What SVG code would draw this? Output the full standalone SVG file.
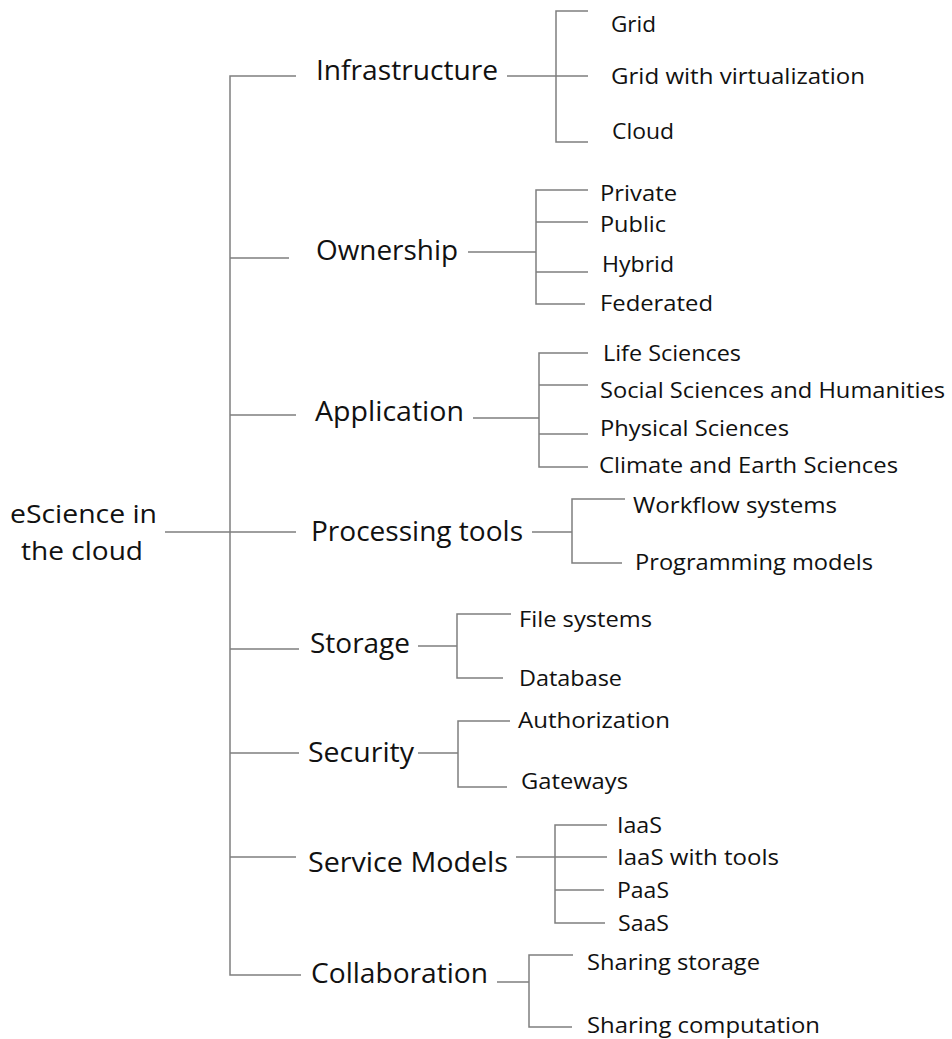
<svg xmlns="http://www.w3.org/2000/svg" width="952" height="1039" viewBox="0 0 952 1039">
<style>
text{font-family:"Open Sans","Noto Sans","Liberation Sans",sans-serif;fill:#111}
.root{font-size:25px}
.cat{font-size:28px}
.leaf{font-size:21.5px}
.c path{fill:none;stroke:#7f7f7f;stroke-width:1.5}
</style>
<rect width="952" height="1039" fill="#fff"/>
<g class="c" id="connectors">
<path d="M296 76H230V975H301M165 532H296M289 258H230M296 415H230M299 649H230M299 753H230M296 857H230"/>
<path d="M507 76H588M588 11H556V142H588"/>
<path d="M468 252H536M588 190H536V304H585M536 222H588M536 272H588"/>
<path d="M473 418H539M588 353H539V467H588M539 385H588M539 434H588"/>
<path d="M532 532H572M625 499H572V563H622"/>
<path d="M418 646H457M511 614H457V678H503"/>
<path d="M418 753H458M510 721H458V787H507"/>
<path d="M516 857H607M607 825H555V923H605M555 890H604"/>
<path d="M497 982H529M573 955H529V1027H572"/>
</g>
<g id="root"><text class="root" x="10" y="523" textLength="147" lengthAdjust="spacingAndGlyphs">eScience in</text><text class="root" x="21" y="560" textLength="122" lengthAdjust="spacingAndGlyphs">the cloud</text></g>
<g id="infrastructure"><text class="cat" x="316" y="80" textLength="182" lengthAdjust="spacingAndGlyphs">Infrastructure</text></g>
<g id="grid"><text class="leaf" x="611" y="32" textLength="45" lengthAdjust="spacingAndGlyphs">Grid</text></g>
<g id="grid-virt"><text class="leaf" x="611" y="84" textLength="254" lengthAdjust="spacingAndGlyphs">Grid with virtualization</text></g>
<g id="cloud"><text class="leaf" x="612" y="139" textLength="62" lengthAdjust="spacingAndGlyphs">Cloud</text></g>
<g id="ownership"><text class="cat" x="316" y="260" textLength="142" lengthAdjust="spacingAndGlyphs">Ownership</text></g>
<g id="private"><text class="leaf" x="600" y="201" textLength="77" lengthAdjust="spacingAndGlyphs">Private</text></g>
<g id="public"><text class="leaf" x="600" y="232" textLength="66" lengthAdjust="spacingAndGlyphs">Public</text></g>
<g id="hybrid"><text class="leaf" x="602" y="272" textLength="72" lengthAdjust="spacingAndGlyphs">Hybrid</text></g>
<g id="federated"><text class="leaf" x="600" y="311" textLength="113" lengthAdjust="spacingAndGlyphs">Federated</text></g>
<g id="application"><text class="cat" x="315" y="421" textLength="149" lengthAdjust="spacingAndGlyphs">Application</text></g>
<g id="life"><text class="leaf" x="603" y="361" textLength="138" lengthAdjust="spacingAndGlyphs">Life Sciences</text></g>
<g id="social"><text class="leaf" x="600" y="398" textLength="345" lengthAdjust="spacingAndGlyphs">Social Sciences and Humanities</text></g>
<g id="physical"><text class="leaf" x="600" y="436" textLength="189" lengthAdjust="spacingAndGlyphs">Physical Sciences</text></g>
<g id="climate"><text class="leaf" x="599" y="473" textLength="299" lengthAdjust="spacingAndGlyphs">Climate and Earth Sciences</text></g>
<g id="processing"><text class="cat" x="311" y="541" textLength="212" lengthAdjust="spacingAndGlyphs">Processing tools</text></g>
<g id="workflow"><text class="leaf" x="633" y="513" textLength="204" lengthAdjust="spacingAndGlyphs">Workflow systems</text></g>
<g id="programming"><text class="leaf" x="635" y="570" textLength="238" lengthAdjust="spacingAndGlyphs">Programming models</text></g>
<g id="storage"><text class="cat" x="310" y="653" textLength="100" lengthAdjust="spacingAndGlyphs">Storage</text></g>
<g id="filesystems"><text class="leaf" x="519" y="627" textLength="133" lengthAdjust="spacingAndGlyphs">File systems</text></g>
<g id="database"><text class="leaf" x="519" y="686" textLength="103" lengthAdjust="spacingAndGlyphs">Database</text></g>
<g id="security"><text class="cat" x="308" y="762" textLength="106" lengthAdjust="spacingAndGlyphs">Security</text></g>
<g id="authorization"><text class="leaf" x="518" y="728" textLength="152" lengthAdjust="spacingAndGlyphs">Authorization</text></g>
<g id="gateways"><text class="leaf" x="521" y="789" textLength="107" lengthAdjust="spacingAndGlyphs">Gateways</text></g>
<g id="service"><text class="cat" x="308" y="872" textLength="200" lengthAdjust="spacingAndGlyphs">Service Models</text></g>
<g id="iaas"><text class="leaf" x="617" y="833" textLength="45" lengthAdjust="spacingAndGlyphs">IaaS</text></g>
<g id="iaas-tools"><text class="leaf" x="617" y="865" textLength="162" lengthAdjust="spacingAndGlyphs">IaaS with tools</text></g>
<g id="paas"><text class="leaf" x="617" y="898" textLength="52" lengthAdjust="spacingAndGlyphs">PaaS</text></g>
<g id="saas"><text class="leaf" x="618" y="931" textLength="51" lengthAdjust="spacingAndGlyphs">SaaS</text></g>
<g id="collaboration"><text class="cat" x="311" y="983" textLength="177" lengthAdjust="spacingAndGlyphs">Collaboration</text></g>
<g id="sharing-storage"><text class="leaf" x="587" y="970" textLength="173" lengthAdjust="spacingAndGlyphs">Sharing storage</text></g>
<g id="sharing-comp"><text class="leaf" x="587" y="1033" textLength="233" lengthAdjust="spacingAndGlyphs">Sharing computation</text></g>
</svg>
